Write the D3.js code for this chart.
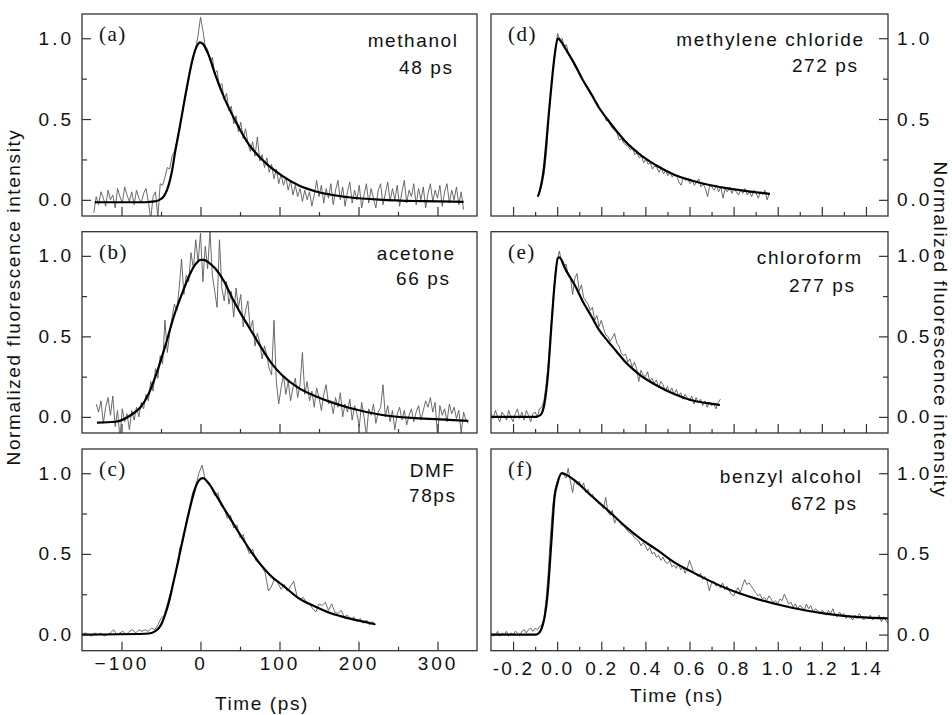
<!DOCTYPE html>
<html>
<head>
<meta charset="utf-8">
<script src="https://cdn.jsdelivr.net/npm/d3@7"></script>
<style>
  body { margin: 0; background: #fff; }
  text { font-family: "Liberation Sans", Arial, sans-serif; fill: #111; }
</style>
</head>
<body>
<svg id="svg" width="952" height="715"></svg>
<script>
// panel text
let panelLetters = ["(a)", "(b)", "(c)", "(d)", "(e)", "(f)"];
let solvents = ["methanol", "acetone", "DMF", "methylene chloride", "chloroform", "benzyl alcohol"];
let lifetimes = ["48 ps", "66 ps", "78ps", "272 ps", "277 ps", "672 ps"];

// tick values
let psTicks = [-100, 0, 100, 200, 300];
let psMinor = [-50, 50, 150, 250];
let nsTicks = [-0.2, 0, 0.2, 0.4, 0.6, 0.8, 1.0, 1.2, 1.4];
let nsMinor = [-0.1, 0.1, 0.3, 0.5, 0.7, 0.9, 1.1, 1.3];
let yTicks = [0, 0.5, 1.0];
let yMinor = [0.25, 0.75];

// measured traces: first time + sampling step, then intensities
let dataStart = [-135, -132, -150, -0.088, -0.3, -0.3];
let dataStep = [3, 3, 4, 0.01, 0.01, 0.01];

let dataA = [-0.08,0.02,-0.03,0.05,0.01,-0.04,0.06,0.00,0.03,-0.05,
  0.07,0.02,-0.02,0.08,0.03,-0.01,0.05,-0.03,0.06,0.01,
  -0.02,0.04,0.07,-0.01,-0.12,0.02,0.05,-0.11,0.10,0.09,
  0.14,0.20,0.19,0.27,0.30,0.36,0.44,0.50,0.60,0.66,
  0.74,0.82,0.88,0.94,1.02,1.13,1.05,0.95,0.93,0.86,
  0.88,0.78,0.80,0.70,0.72,0.62,0.66,0.55,0.58,0.47,
  0.52,0.42,0.48,0.38,0.44,0.35,0.30,0.36,0.27,0.39,
  0.24,0.28,0.20,0.26,0.17,0.22,0.13,0.19,0.10,0.16,
  0.09,0.14,0.06,0.12,0.03,0.09,0.02,0.07,-0.01,0.06,
  0.00,0.05,-0.04,0.03,0.12,0.02,0.09,-0.02,0.07,0.01,
  0.10,-0.03,0.06,0.12,0.00,0.08,-0.04,0.05,0.11,-0.02,
  0.06,0.00,0.09,-0.05,0.03,0.10,-0.02,0.07,0.01,-0.05,
  0.06,0.10,-0.03,0.04,0.11,-0.01,0.07,0.00,0.09,-0.04,
  0.05,0.12,-0.02,0.06,0.02,0.10,-0.03,0.07,0.00,0.08,
  -0.05,0.04,0.10,-0.01,0.06,0.01,0.09,-0.04,0.05,0.10,
  -0.02,0.06,0.00,0.08,-0.03,0.05,-0.06];

let dataB = [0.08,0.03,0.10,-0.04,0.06,0.12,0.01,0.13,-0.06,0.04,
  -0.13,0.05,-0.03,0.02,-0.08,0.04,-0.02,0.06,0.00,0.09,
  0.05,0.14,0.10,0.22,0.16,0.30,0.24,0.38,0.33,0.60,
  0.40,0.52,0.62,0.70,0.66,0.80,0.98,0.76,0.88,0.84,
  1.02,0.92,1.10,0.96,1.14,0.84,1.06,0.92,1.15,0.88,
  0.78,0.68,1.10,0.80,0.72,0.84,0.70,0.78,0.62,0.80,
  0.68,0.76,0.56,0.66,0.72,0.54,0.60,0.44,0.52,0.46,
  0.36,0.44,0.38,0.30,0.26,0.60,0.22,0.08,0.18,0.26,
  0.14,0.22,0.10,0.18,0.24,0.12,0.20,0.40,0.14,0.22,
  0.10,0.16,0.06,0.18,0.12,0.04,0.14,0.20,0.08,0.10,
  0.02,0.12,0.06,0.15,0.00,0.08,0.03,0.11,-0.02,0.07,
  0.02,-0.06,0.09,0.00,-0.12,0.05,0.01,0.08,-0.04,0.03,
  0.06,0.20,0.00,0.07,-0.03,0.04,-0.08,0.02,0.06,-0.02,
  0.04,-0.05,0.01,0.05,-0.03,0.03,0.07,-0.02,0.04,0.10,
  0.06,0.12,0.03,0.09,-0.12,0.07,0.01,0.05,-0.03,0.08,
  0.02,0.06,-0.01,0.04,-0.10,0.03,-0.02,-0.04];

let dataC = [0.00,0.01,0.00,-0.01,0.01,0.00,0.01,-0.01,0.00,0.01,
  0.03,0.00,0.01,0.02,0.00,0.02,0.03,0.01,0.03,0.02,
  0.03,0.02,0.04,0.03,0.06,0.10,0.12,0.19,0.26,0.33,
  0.42,0.54,0.58,0.70,0.78,0.88,0.92,1.00,1.05,0.96,
  0.93,0.92,0.86,0.88,0.80,0.78,0.72,0.74,0.66,0.68,
  0.60,0.62,0.55,0.50,0.53,0.46,0.44,0.42,0.38,0.27,
  0.30,0.35,0.32,0.28,0.31,0.27,0.30,0.33,0.24,0.22,
  0.23,0.20,0.19,0.16,0.14,0.19,0.18,0.20,0.15,0.19,
  0.14,0.13,0.15,0.11,0.12,0.09,0.11,0.08,0.10,0.07,
  0.09,0.06,0.08,0.06];

let dataD = [0.02,0.05,0.10,0.17,0.30,0.52,0.68,0.82,0.92,1.03,
  0.99,1.00,0.95,0.96,0.90,0.88,0.85,0.82,0.80,0.79,
  0.75,0.73,0.70,0.69,0.65,0.64,0.61,0.60,0.56,0.55,
  0.53,0.49,0.50,0.46,0.44,0.43,0.41,0.37,0.38,0.35,
  0.34,0.33,0.31,0.32,0.28,0.29,0.26,0.27,0.23,0.25,
  0.22,0.23,0.19,0.21,0.20,0.17,0.20,0.16,0.18,0.15,
  0.17,0.14,0.16,0.15,0.11,0.09,0.14,0.12,0.13,0.10,
  0.12,0.09,0.11,0.13,0.08,0.10,0.07,0.02,0.09,0.08,
  0.06,0.09,0.05,0.08,0.01,0.07,0.05,0.08,0.04,0.07,
  0.05,0.03,0.06,0.04,0.07,0.03,0.05,0.02,0.06,0.04,
  0.01,0.05,0.03,0.06,0.00,0.04];

let dataE = [0.02,-0.01,0.04,0.00,-0.03,0.03,0.01,-0.02,0.04,0.00,
  -0.03,0.02,0.05,-0.01,0.03,-0.02,0.04,0.01,-0.03,0.02,
  0.03,0.00,0.05,0.06,0.10,0.20,0.34,0.52,0.70,0.87,
  0.97,1.03,0.96,0.93,0.95,0.88,0.87,0.76,0.86,0.89,
  0.78,0.82,0.74,0.72,0.70,0.66,0.68,0.60,0.63,0.56,
  0.60,0.55,0.51,0.50,0.47,0.49,0.52,0.46,0.44,0.40,
  0.38,0.39,0.34,0.36,0.31,0.34,0.30,0.22,0.29,0.26,
  0.25,0.28,0.22,0.24,0.21,0.23,0.18,0.22,0.20,0.16,
  0.19,0.15,0.18,0.14,0.17,0.13,0.15,0.11,0.14,0.12,
  0.10,0.13,0.08,0.12,0.09,0.11,0.07,0.10,0.06,0.09,
  0.07,0.08,0.05,0.09,0.11];

let dataF = [0.01,-0.01,0.00,0.02,-0.01,0.01,0.00,0.02,-0.01,0.01,
  0.00,0.02,0.01,-0.01,0.02,0.03,0.01,0.03,0.04,0.02,
  0.04,0.03,0.05,0.06,0.10,0.22,0.40,0.62,0.80,0.90,
  0.95,0.98,1.00,0.99,0.97,1.03,0.95,0.88,0.96,0.93,
  0.95,0.91,0.94,0.88,0.90,0.86,0.87,0.84,0.82,0.81,
  0.80,0.78,0.85,0.76,0.74,0.77,0.69,0.72,0.71,0.68,
  0.68,0.66,0.64,0.63,0.62,0.60,0.59,0.58,0.55,0.57,
  0.55,0.52,0.54,0.50,0.51,0.48,0.49,0.46,0.48,0.45,
  0.44,0.46,0.42,0.43,0.41,0.44,0.40,0.42,0.38,0.41,
  0.46,0.42,0.38,0.37,0.36,0.38,0.34,0.36,0.33,0.27,
  0.32,0.33,0.30,0.31,0.29,0.32,0.28,0.30,0.27,0.25,
  0.24,0.27,0.29,0.26,0.30,0.34,0.31,0.32,0.30,0.28,
  0.26,0.24,0.25,0.22,0.23,0.21,0.24,0.22,0.20,0.21,
  0.19,0.22,0.21,0.25,0.22,0.19,0.20,0.17,0.19,0.16,
  0.18,0.17,0.15,0.19,0.16,0.18,0.14,0.16,0.15,0.13,
  0.15,0.14,0.12,0.15,0.13,0.16,0.12,0.11,0.14,0.12,
  0.13,0.10,0.12,0.11,0.09,0.12,0.10,0.13,0.11,0.09,
  0.11,0.10,0.12,0.09,0.11,0.10,0.12,0.08,0.11,0.09,0.07];

// fitted curves (time, intensity)
let fitTimeA = [-134,-70,-58,-52,-46,-41,-36,-32,-27,-23,-19,-15,-11,-6.5,-3,-1,3,10,19,31,44,61,82,103,124,145,188,230,280,333];
let fitA = [-0.015,-0.015,-0.01,0.0,0.025,0.08,0.18,0.30,0.43,0.54,0.65,0.755,0.85,0.93,0.965,0.975,0.965,0.9,0.77,0.62,0.49,0.345,0.23,0.15,0.09,0.053,0.016,0.0,-0.008,-0.012];
let fitTimeB = [-131,-108,-87,-76,-66,-55,-44,-34,-23,-14,-6,0,4,10,19,30,40,50,61,72,82,92,103,124,145,166,188,230,272,314,339];
let fitB = [-0.035,-0.03,0.015,0.06,0.14,0.28,0.45,0.62,0.77,0.88,0.95,0.975,0.975,0.96,0.92,0.84,0.74,0.65,0.56,0.47,0.39,0.32,0.26,0.18,0.13,0.09,0.057,0.012,-0.008,-0.018,-0.025];
let fitTimeC = [-150,-70,-62,-56,-50,-45,-40,-34,-28,-22,-16,-10,-5,0,3,10,19,30,40,50,61,72,82,92,103,124,145,166,188,221];
let fitC = [0,0.005,0.01,0.025,0.06,0.12,0.2,0.33,0.46,0.6,0.73,0.85,0.93,0.965,0.97,0.94,0.87,0.78,0.70,0.62,0.536,0.46,0.40,0.35,0.31,0.226,0.174,0.13,0.10,0.064];
let fitTimeD = [-0.088,-0.08,-0.07,-0.06,-0.05,-0.04,-0.03,-0.02,-0.01,0.003,0.015,0.04,0.079,0.115,0.155,0.19,0.23,0.27,0.306,0.345,0.382,0.42,0.458,0.533,0.609,0.68,0.76,0.86,0.965];
let fitD = [0.02,0.05,0.11,0.2,0.34,0.5,0.65,0.79,0.91,1.0,0.985,0.93,0.84,0.745,0.654,0.57,0.494,0.425,0.366,0.315,0.274,0.238,0.206,0.154,0.12,0.095,0.074,0.054,0.037];
let fitTimeE = [-0.3,-0.1,-0.088,-0.073,-0.058,-0.042,-0.027,-0.012,0.003,0.01,0.04,0.079,0.115,0.155,0.19,0.23,0.27,0.306,0.345,0.382,0.42,0.458,0.533,0.609,0.68,0.738];
let fitE = [0,0,0.003,0.016,0.08,0.26,0.55,0.82,0.985,0.99,0.91,0.82,0.72,0.625,0.54,0.47,0.405,0.346,0.295,0.253,0.22,0.19,0.14,0.103,0.085,0.074];
let fitTimeF = [-0.3,-0.1,-0.088,-0.073,-0.058,-0.042,-0.027,-0.012,0.0,0.021,0.048,0.079,0.155,0.23,0.306,0.382,0.458,0.533,0.609,0.76,0.912,1.064,1.215,1.367,1.5];
let fitF = [0,0,0.004,0.03,0.1,0.27,0.56,0.85,0.93,1.0,0.985,0.955,0.86,0.77,0.674,0.59,0.52,0.446,0.39,0.29,0.218,0.166,0.13,0.108,0.1];

let traces = [dataA, dataB, dataC, dataD, dataE, dataF];
let fitTimes = [fitTimeA, fitTimeB, fitTimeC, fitTimeD, fitTimeE, fitTimeF];
let fits = [fitA, fitB, fitC, fitD, fitE, fitF];

// layout
let colX = [[82, 477], [491, 888]];
let rowY = [[14, 216], [231.7, 433], [449, 650.7]];
let nameInset = [[20, 25], [23, 28], [23, 22], [25, 31], [27, 34], [27, 32]];
let nameBase = [[33, 60], [28, 53], [28, 53], [32, 58], [32, 60], [34, 61]];

let svg = d3.select("#svg");
svg.append("rect").attr("width", 952).attr("height", 715).attr("fill", "#fff");

const drawPanel = function(p) {
  let col = p < 3 ? 0 : 1;
  let row = p % 3;
  let left = colX[col][0], right = colX[col][1];
  let top = rowY[row][0], bottom = rowY[row][1];

  let x = d3.scaleLinear()
    .domain(col == 0 ? [-150, 350] : [-0.3, 1.5])
    .range([left, right]);
  let y = d3.scaleLinear()
    .domain([-0.1, 1.15])
    .range([bottom, top]);

  svg.append("clipPath").attr("id", "clip" + p)
    .append("rect")
    .attr("x", left).attr("y", top)
    .attr("width", right - left).attr("height", bottom - top);

  let g = svg.append("g").attr("clip-path", "url(#clip" + p + ")");

  let raw = traces[p].map((v, i) => ({ t: dataStart[p] + i * dataStep[p], v: v }));
  let fit = fitTimes[p].map((t, i) => ({ t: t, v: fits[p][i] }));

  g.append("path")
    .datum(raw)
    .attr("fill", "none")
    .attr("stroke", "#5a5a5a")
    .attr("stroke-width", 0.9)
    .attr("stroke-linejoin", "round")
    .attr("d", d3.line().x(d => x(d.t)).y(d => y(d.v)));

  g.append("path")
    .datum(fit)
    .attr("fill", "none")
    .attr("stroke", "#000")
    .attr("stroke-width", 2.2)
    .attr("stroke-linejoin", "round")
    .attr("d", d3.line().curve(d3.curveMonotoneX).x(d => x(d.t)).y(d => y(d.v)));

  // x ticks, pointing inward
  let lastRow = row == 2;
  let nsFormat = (d) => d3.format(".1f")(d).replace("\u2212", "-");
  let xAxis = d3.axisBottom(x)
    .tickValues(col == 0 ? psTicks : nsTicks)
    .tickSizeInner(-9).tickSizeOuter(0)
    .tickPadding(col == 0 ? 6 : 11)
    .tickFormat(lastRow ? (col == 0 ? d3.format("d") : nsFormat) : "");
  svg.append("g")
    .attr("class", col == 0 ? "xaxis-ps" : "xaxis-ns")
    .attr("transform", "translate(0," + bottom + ")")
    .call(xAxis);
  svg.append("g")
    .attr("transform", "translate(0," + bottom + ")")
    .call(d3.axisBottom(x).tickValues(col == 0 ? psMinor : nsMinor)
      .tickSizeInner(-4).tickSizeOuter(0).tickFormat(""));

  // y ticks on the outer side, pointing inward
  let yAxis = (col == 0 ? d3.axisLeft(y) : d3.axisRight(y))
    .tickValues(yTicks)
    .tickSizeInner(-9).tickSizeOuter(0)
    .tickPadding(col == 0 ? 8 : 9)
    .tickFormat(d3.format(".1f"));
  svg.append("g")
    .attr("transform", "translate(" + (col == 0 ? left : right) + ",0)")
    .call(yAxis);
  svg.append("g")
    .attr("transform", "translate(" + (col == 0 ? left : right) + ",0)")
    .call((col == 0 ? d3.axisLeft(y) : d3.axisRight(y)).tickValues(yMinor)
      .tickSizeInner(-5).tickSizeOuter(0).tickFormat(""));

  // frame
  svg.append("rect")
    .attr("x", left).attr("y", top)
    .attr("width", right - left).attr("height", bottom - top)
    .attr("fill", "none")
    .attr("stroke", "#333")
    .attr("stroke-width", 1.3);

  svg.append("text")
    .attr("x", left + 17).attr("y", top + 27)
    .style("font-family", "'Liberation Serif', 'Times New Roman', serif")
    .style("font-size", "21px")
    .style("letter-spacing", "1.5px")
    .text(panelLetters[p]);

  svg.append("text")
    .attr("x", right - nameInset[p][0] + 1.6).attr("y", top + nameBase[p][0])
    .attr("text-anchor", "end")
    .style("font-size", "19px").style("letter-spacing", "1.6px")
    .text(solvents[p]);
  svg.append("text")
    .attr("x", right - nameInset[p][1] + 1.6).attr("y", top + nameBase[p][1])
    .attr("text-anchor", "end")
    .style("font-size", "19px").style("letter-spacing", "1.6px")
    .text(lifetimes[p]);
}

for (let p = 0; p < 6; p++) drawPanel(p);

svg.selectAll(".domain").remove();
svg.selectAll(".tick line").attr("stroke", "#333").attr("stroke-width", 1.2);
svg.selectAll(".tick text")
  .attr("fill", "#111")
  .style("font-family", "'Liberation Sans', Arial, sans-serif")
  .style("font-size", "19px")
  .style("letter-spacing", "3px");
svg.selectAll(".xaxis-ns .tick text").style("letter-spacing", "2.2px");

svg.append("text")
  .attr("x", 262).attr("y", 710)
  .attr("text-anchor", "middle")
  .style("font-size", "19px").style("letter-spacing", "1.6px")
  .text("Time (ps)");
svg.append("text")
  .attr("x", 677).attr("y", 702)
  .attr("text-anchor", "middle")
  .style("font-size", "19px").style("letter-spacing", "1.6px")
  .text("Time (ns)");

svg.append("text")
  .attr("transform", "translate(20,297) rotate(-90)")
  .attr("text-anchor", "middle")
  .style("font-size", "19px").style("letter-spacing", "1.6px")
  .text("Normalized fluorescence intensity");
svg.append("text")
  .attr("transform", "translate(934,330) rotate(90)")
  .attr("text-anchor", "middle")
  .style("font-size", "19px").style("letter-spacing", "1.6px")
  .text("Normalized fluorescence intensity");
</script>
</body>
</html>
